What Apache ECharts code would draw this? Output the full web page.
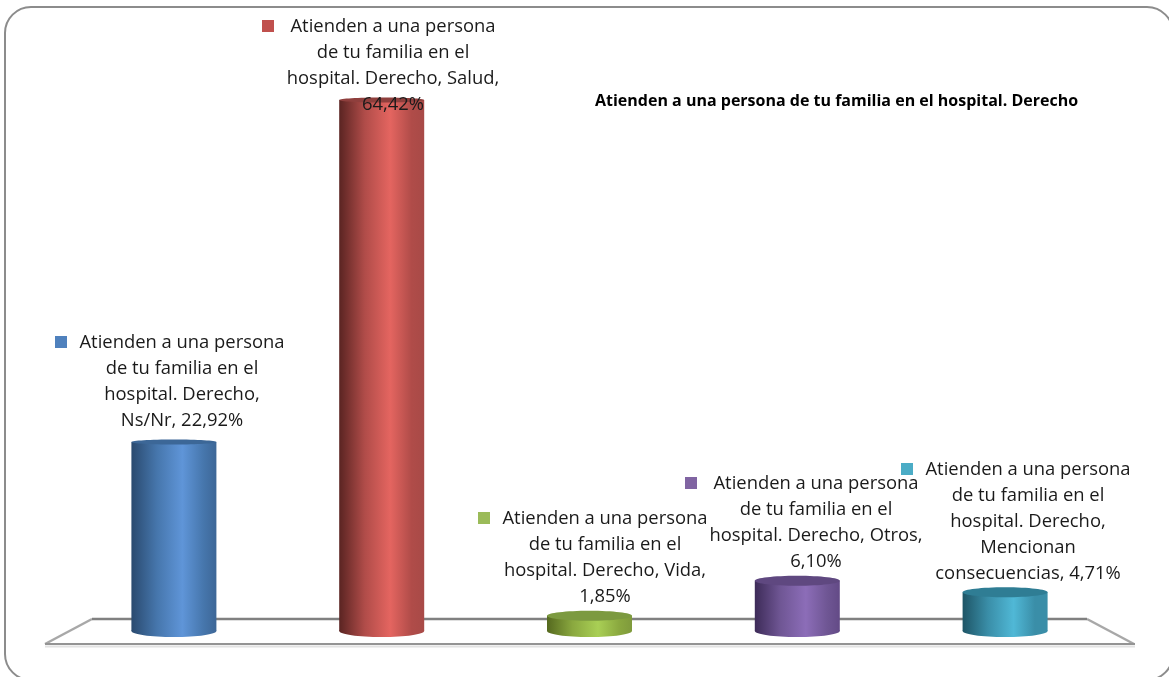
<!DOCTYPE html>
<html><head><meta charset="utf-8">
<style>html,body{margin:0;padding:0;background:#fff}#c{width:1169px;height:677px}</style>
<script src="https://cdn.jsdelivr.net/npm/echarts@6/dist/echarts.min.js"></script>
</head><body><div id="c"></div>
<script>
const categories = ['Ns/Nr','Salud','Vida','Otros','Mencionan consecuencias'];
const values = [22.92,64.42,1.85,6.10,4.71];
const labelTexts = [
 ['Atienden a una persona','de tu familia en el','hospital. Derecho,','Ns/Nr, 22,92%'],
 ['Atienden a una persona','de tu familia en el','hospital. Derecho, Salud,','64,42%'],
 ['Atienden a una persona','de tu familia en el','hospital. Derecho, Vida,','1,85%'],
 ['Atienden a una persona','de tu familia en el','hospital. Derecho, Otros,','6,10%'],
 ['Atienden a una persona','de tu familia en el','hospital. Derecho,','Mencionan','consecuencias, 4,71%']
];
const titleText = 'Atienden a una persona de tu familia en el hospital. Derecho';
const palette = [
 {edge:'#2a4a6f',mid:'#4676ac',light:'#5f95d8',right:'#3d6797',top:'#3c6797',marker:'#4f81bd'},
 {edge:'#5a2422',mid:'#b04c49',light:'#e46560',right:'#a84a47',top:'#8f3f3d',marker:'#c0504d'},
 {edge:'#55691f',mid:'#8aa83f',light:'#a9cf55',right:'#7f9a3c',top:'#7c9a40',marker:'#9bbb59'},
 {edge:'#3d2b58',mid:'#6f5694',light:'#8c6db8',right:'#634a86',top:'#5f4880',marker:'#8064a2'},
 {edge:'#1e5566',mid:'#3a8ea8',light:'#50b8d6',right:'#3a8ea8',top:'#2f7d94',marker:'#4bacc6'}
];
const labelCenterX = [182,393,605,816,1028];
const labelFirstY = [343,27,519,484,470];
const markerX = [55,262,478,685,901];
const lineHeight = 26;
const barWidth = 85;

function grad(p){
 return {type:'linear',x:0,y:0,x2:1,y2:0,colorStops:[
  {offset:0,color:p.edge},{offset:0.3,color:p.mid},{offset:0.6,color:p.light},{offset:0.85,color:p.mid},{offset:1,color:p.right}]};
}
function renderCyl(params,api){
 const i=params.dataIndex, p=palette[i];
 const v=api.value(1);
 const top=api.coord([i,v]), base=api.coord([i,0]);
 const cx=top[0], x=cx-barWidth/2, by=base[1];
 const topRy = v>10 ? 2.5 : 5;
 const ch=[
  {type:'ellipse',shape:{cx,cy:by,rx:barWidth/2,ry:6},style:{fill:grad(p)}},
  {type:'rect',shape:{x,y:top[1],width:barWidth,height:by-top[1]},style:{fill:grad(p)}},
  {type:'ellipse',shape:{cx,cy:top[1],rx:barWidth/2,ry:topRy},style:{fill:p.top}}
 ];
 return {type:'group',children:ch};
}
function renderLabel(params,api){
 const i=params.dataIndex,p=palette[i];
 const ch=[{type:'rect',shape:{x:markerX[i],y:labelFirstY[i]-7,width:12,height:12},style:{fill:p.marker}}];
 labelTexts[i].forEach((t,k)=>ch.push({type:'text',style:{text:t,x:labelCenterX[i],y:labelFirstY[i]+k*lineHeight,
   align:'center',verticalAlign:'middle',fill:'#1a1a1a',font:'18.4px "Open Sans"'}}));
 return {type:'group',children:ch};
}
const chart=echarts.init(document.getElementById('c'),null,{renderer:'canvas'});
chart.setOption({
 animation:false,
 backgroundColor:'#fff',
 grid:{left:70,right:60,top:54,bottom:46},
 xAxis:{type:'category',data:categories,show:false},
 yAxis:{type:'value',min:0,max:70,show:false},
 graphic:[
  {type:'rect',z:-10,shape:{x:5,y:7,width:1168,height:673,r:26},style:{fill:'#fff',stroke:'#8c8c8c',lineWidth:2}},
  {type:'polyline',z:-8,shape:{points:[[45,644],[92,619]]},style:{fill:'none',stroke:'#a8a8a8',lineWidth:2.5}},
  {type:'polyline',z:-8,shape:{points:[[1087,619],[1134,644]]},style:{fill:'none',stroke:'#a8a8a8',lineWidth:2.5}},
  {type:'line',z:-8,shape:{x1:92,y1:619,x2:1087,y2:619},style:{stroke:'#808080',lineWidth:2.5}},
  {type:'line',z:-8,shape:{x1:45,y1:644,x2:1135,y2:644},style:{stroke:'#949494',lineWidth:2}},
  {type:'line',z:-8,shape:{x1:45,y1:646.5,x2:1135,y2:646.5},style:{stroke:'#e2e2e2',lineWidth:2}},
  {type:'text',left:595,top:93,z:5,style:{text:titleText,fill:'#000',font:'bold 16px "Open Sans"'}}
 ],
 series:[
  {type:'custom',renderItem:renderCyl,data:values.map((v,i)=>[i,v]),encode:{x:0,y:1},z:2,clip:false},
  {type:'custom',renderItem:renderLabel,data:values.map((v,i)=>[i,v]),encode:{x:0,y:1},z:3,clip:false}
 ]
});
</script></body></html>
